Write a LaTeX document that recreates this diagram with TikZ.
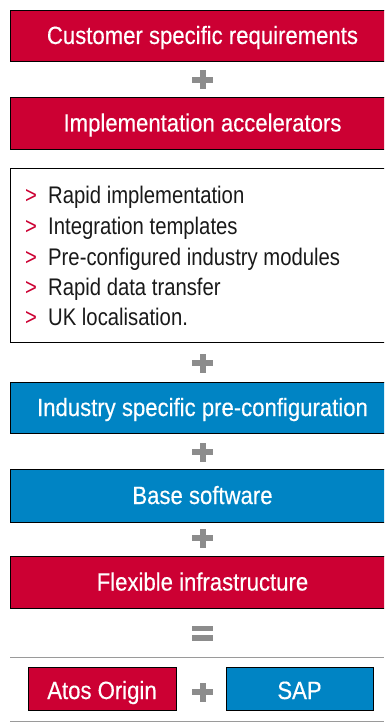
\documentclass[tikz,border=0pt]{standalone}
\usepackage{fontspec}
\setmainfont[FakeStretch=0.845]{Liberation Sans}
\newfontfamily\headfont[FakeStretch=0.885,FakeBold=0.35]{Liberation Sans}
\definecolor{aored}{HTML}{CC0033}
\definecolor{aoblue}{HTML}{0084C4}
\definecolor{plusgray}{HTML}{8C8C8C}
\definecolor{linegray}{HTML}{9A9A9A}
\tikzset{
  redbox/.style={fill=aored,draw=black,line width=0.9pt},
  bluebox/.style={fill=aoblue,draw=black,line width=0.9pt},
  boxtext/.style={text=white,font=\headfont\fontsize{25}{29}\selectfont,inner sep=0pt,anchor=base},
  listtext/.style={text=black!90,font=\fontsize{24}{28}\selectfont,inner sep=0pt,anchor=base west},
  bullet/.style={text=aored,font=\fontsize{24}{28}\selectfont,inner sep=0pt,anchor=base west},
}
\newcommand{\plussign}[2]{%
  \fill[plusgray] (#1-10.5,#2-2.7) rectangle (#1+10.5,#2+2.7);
  \fill[plusgray] (#1-3,#2-9.5) rectangle (#1+3,#2+9.5);}
\begin{document}
\begin{tikzpicture}[x=1pt,y=-1pt]
\useasboundingbox (0,0) rectangle (384,722);
\clip (0,0) rectangle (384,722);
% boxes
\draw[redbox] (10,10) rectangle (396,61);
\node[boxtext] (b1) at (202.5,44) {Customer specific requirements};
\plussign{202.5}{80}
\draw[redbox] (10,97) rectangle (396,149);
\node[boxtext] (b2) at (202.5,131.5) {Implementation accelerators};
% list box
\draw[draw=black,line width=0.9pt,fill=white] (10,168) rectangle (396,342);
\node[bullet] (l1b) at (25,204) {>};
\node[listtext] (l1) at (48,204) {Rapid implementation};
\node[bullet] (l2b) at (25,234.5) {>};
\node[listtext] (l2) at (48,234.5) {Integration templates};
\node[bullet] (l3b) at (25,265) {>};
\node[listtext] (l3) at (48,265) {Pre-configured industry modules};
\node[bullet] (l4b) at (25,295) {>};
\node[listtext] (l4) at (48,295) {Rapid data transfer};
\node[bullet] (l5b) at (25,325) {>};
\node[listtext] (l5) at (48,325) {UK localisation.};
\plussign{202.5}{363}
\draw[bluebox] (10,382) rectangle (396,433);
\node[boxtext] (b3) at (202.5,416) {Industry specific pre-configuration};
\plussign{202.5}{452}
\draw[bluebox] (10,469) rectangle (396,522);
\node[boxtext] (b4) at (202.5,504) {Base software};
\plussign{202.5}{538}
\draw[redbox] (10,556) rectangle (396,608);
\node[boxtext] (b5) at (202.5,590.5) {Flexible infrastructure};
% equals
\fill[plusgray] (192,625.5) rectangle (213,631);
\fill[plusgray] (192,635) rectangle (213,640.5);
% lines
\draw[linegray,line width=1pt] (10,657) -- (384,657);
\draw[redbox] (28,667) rectangle (176,710);
\node[boxtext] (atos) at (102,699) {Atos Origin};
\plussign{202.5}{692}
\draw[bluebox] (226,667) rectangle (373,710);
\node[boxtext] (sap) at (299.5,699) {SAP};
\draw[linegray,line width=1pt] (10,721) -- (384,721);
\end{tikzpicture}
\end{document}
